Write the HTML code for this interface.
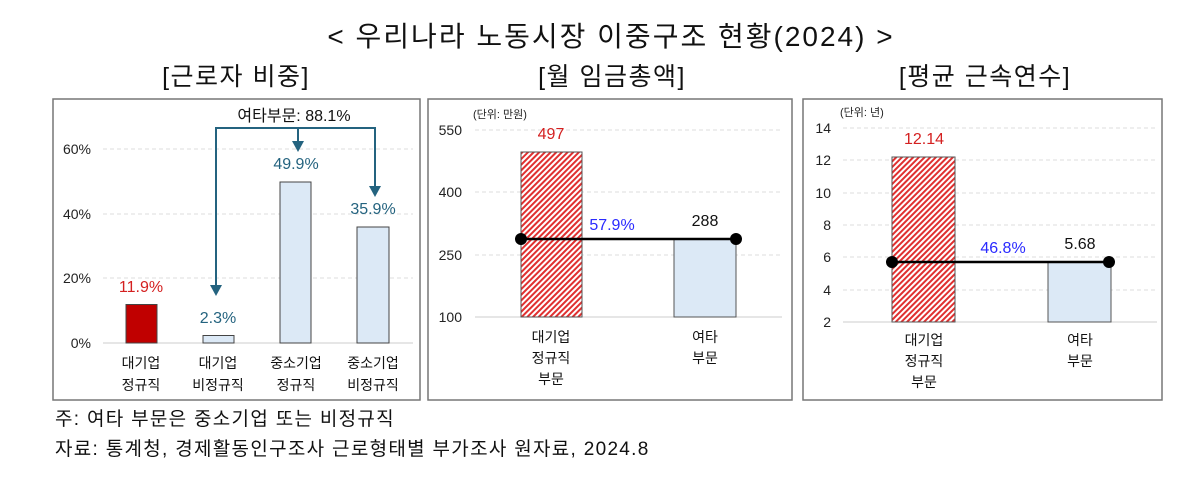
<!DOCTYPE html>
<html><head><meta charset="utf-8"><style>
body{margin:0;background:#fff;}
svg text{font-family:"Liberation Sans","Noto Sans CJK KR",sans-serif;}
</style></head><body>
<svg width="1200" height="473" viewBox="0 0 1200 473" xmlns="http://www.w3.org/2000/svg">
<defs>
<pattern id="h" width="4" height="4" patternUnits="userSpaceOnUse" patternTransform="rotate(45)">
<rect width="4" height="4" fill="#fff"/><rect width="2" height="4" fill="#e03030"/>
</pattern>
</defs>
<text x="611" y="46" font-size="28" letter-spacing="2" text-anchor="middle" fill="#111">&lt; 우리나라 노동시장 이중구조 현황(2024) &gt;</text>
<text x="236" y="85" font-size="25" letter-spacing="1.5" text-anchor="middle" fill="#111">[근로자 비중]</text>
<text x="612" y="85" font-size="25" letter-spacing="1.5" text-anchor="middle" fill="#111">[월 임금총액]</text>
<text x="985" y="85" font-size="25" letter-spacing="1.5" text-anchor="middle" fill="#111">[평균 근속연수]</text>

<!-- Panel 1 -->
<rect x="53" y="99" width="367" height="301" fill="#fff" stroke="#777" stroke-width="1.5"/>
<g stroke="#ddd" stroke-dasharray="4,3">
<line x1="103" y1="149" x2="413" y2="149"/><line x1="103" y1="214" x2="413" y2="214"/><line x1="103" y1="278" x2="413" y2="278"/>
</g>
<line x1="103" y1="343" x2="413" y2="343" stroke="#ccc"/>
<g font-size="14" fill="#222" text-anchor="end">
<text x="91" y="154">60%</text><text x="91" y="219">40%</text><text x="91" y="283">20%</text><text x="91" y="348">0%</text>
</g>
<rect x="126" y="304.5" width="31" height="38.5" fill="#c00000" stroke="#444"/>
<rect x="203" y="335.5" width="31" height="7.5" fill="#dce9f6" stroke="#444"/>
<rect x="280" y="182" width="31" height="161" fill="#dce9f6" stroke="#444"/>
<rect x="357" y="227" width="32" height="116" fill="#dce9f6" stroke="#444"/>
<text x="141" y="292" font-size="16" fill="#d42020" text-anchor="middle">11.9%</text>
<g font-size="16" fill="#24637f" text-anchor="middle">
<text x="218" y="323">2.3%</text><text x="296" y="169">49.9%</text><text x="373" y="214">35.9%</text>
</g>
<g font-size="14" fill="#111" text-anchor="middle">
<text x="141" y="368">대기업</text><text x="141" y="390">정규직</text>
<text x="218" y="368">대기업</text><text x="218" y="390">비정규직</text>
<text x="296" y="368">중소기업</text><text x="296" y="390">정규직</text>
<text x="373" y="368">중소기업</text><text x="373" y="390">비정규직</text>
</g>
<g stroke="#24637f" stroke-width="2" fill="none">
<polyline points="216,292 216,128 375,128 375,192"/>
<line x1="298" y1="128" x2="298" y2="147"/>
</g>
<g fill="#24637f">
<polygon points="210,285 222,285 216,296"/>
<polygon points="292,141 304,141 298,152"/>
<polygon points="369,186 381,186 375,197"/>
</g>
<rect x="230" y="106" width="128" height="18" fill="#fff"/>
<text x="294" y="121" font-size="16" fill="#111" text-anchor="middle">여타부문: 88.1%</text>

<!-- Panel 2 -->
<rect x="428" y="99" width="364" height="301" fill="#fff" stroke="#777" stroke-width="1.5"/>
<g stroke="#ddd" stroke-dasharray="4,3">
<line x1="475" y1="130" x2="782" y2="130"/><line x1="475" y1="192" x2="782" y2="192"/><line x1="475" y1="255" x2="782" y2="255"/>
</g>
<line x1="475" y1="317" x2="782" y2="317" stroke="#ccc"/>
<g font-size="14" fill="#222" text-anchor="end">
<text x="462" y="135">550</text><text x="462" y="197">400</text><text x="462" y="260">250</text><text x="462" y="322">100</text>
</g>
<text x="473" y="118" font-size="11" fill="#222">(단위: 만원)</text>
<rect x="521" y="152" width="61" height="165" fill="url(#h)" stroke="#555"/>
<rect x="674" y="239" width="62" height="78" fill="#dce9f6" stroke="#555"/>
<line x1="521" y1="239" x2="736" y2="239" stroke="#000" stroke-width="2.5"/>
<circle cx="521" cy="239" r="6" fill="#000"/><circle cx="736" cy="239" r="6" fill="#000"/>
<text x="551" y="139" font-size="16" fill="#d42020" text-anchor="middle">497</text>
<text x="612" y="230" font-size="16" fill="#2a2aff" text-anchor="middle">57.9%</text>
<text x="705" y="226" font-size="16" fill="#111" text-anchor="middle">288</text>
<g font-size="14" fill="#111" text-anchor="middle">
<text x="551" y="342">대기업</text><text x="551" y="363">정규직</text><text x="551" y="384">부문</text>
<text x="705" y="342">여타</text><text x="705" y="363">부문</text>
</g>

<!-- Panel 3 -->
<rect x="803" y="99" width="359" height="301" fill="#fff" stroke="#777" stroke-width="1.5"/>
<g stroke="#ddd" stroke-dasharray="4,3">
<line x1="843" y1="128" x2="1157" y2="128"/><line x1="843" y1="160" x2="1157" y2="160"/><line x1="843" y1="193" x2="1157" y2="193"/>
<line x1="843" y1="225" x2="1157" y2="225"/><line x1="843" y1="257" x2="1157" y2="257"/><line x1="843" y1="290" x2="1157" y2="290"/>
</g>
<line x1="843" y1="322" x2="1157" y2="322" stroke="#ccc"/>
<g font-size="14" fill="#222" text-anchor="end">
<text x="831" y="133">14</text><text x="831" y="165">12</text><text x="831" y="198">10</text><text x="831" y="230">8</text>
<text x="831" y="262">6</text><text x="831" y="295">4</text><text x="831" y="327">2</text>
</g>
<text x="840" y="116" font-size="11" fill="#222">(단위: 년)</text>
<rect x="892" y="157" width="63" height="165" fill="url(#h)" stroke="#555"/>
<rect x="1048" y="262" width="63" height="60" fill="#dce9f6" stroke="#555"/>
<line x1="892" y1="262" x2="1109" y2="262" stroke="#000" stroke-width="2.5"/>
<circle cx="892" cy="262" r="6" fill="#000"/><circle cx="1109" cy="262" r="6" fill="#000"/>
<text x="924" y="144" font-size="16" fill="#d42020" text-anchor="middle">12.14</text>
<text x="1003" y="253" font-size="16" fill="#2a2aff" text-anchor="middle">46.8%</text>
<text x="1080" y="249" font-size="16" fill="#111" text-anchor="middle">5.68</text>
<g font-size="14" fill="#111" text-anchor="middle">
<text x="924" y="345">대기업</text><text x="924" y="366">정규직</text><text x="924" y="387">부문</text>
<text x="1080" y="345">여타</text><text x="1080" y="366">부문</text>
</g>

<text x="55" y="425" font-size="19" letter-spacing="1.3" fill="#111">주: 여타 부문은 중소기업 또는 비정규직</text>
<text x="55" y="455" font-size="19" letter-spacing="1.3" fill="#111">자료: 통계청, 경제활동인구조사 근로형태별 부가조사 원자료, 2024.8</text>
</svg>
</body></html>
